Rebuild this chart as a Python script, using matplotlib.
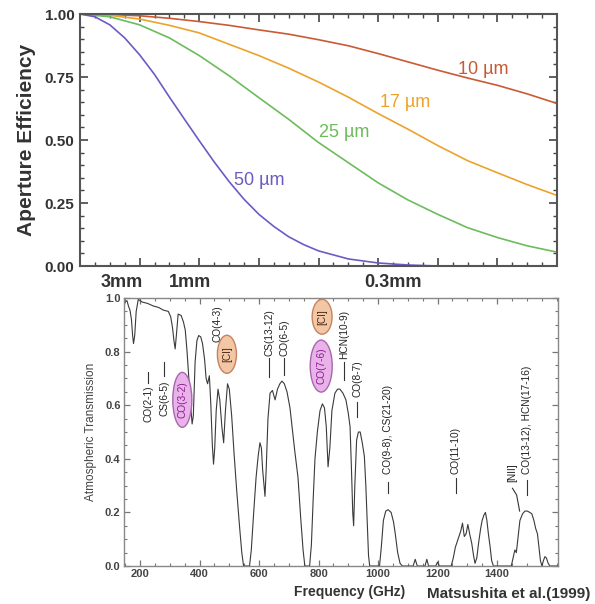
import matplotlib
matplotlib.use("Agg")
import matplotlib.pyplot as plt
from matplotlib.patches import Ellipse
from matplotlib.ticker import MultipleLocator, FormatStrFormatter, FixedLocator
import matplotlib.transforms as mtrans

plt.rcParams['font.family'] = ['Liberation Sans', 'DejaVu Sans']

# ---------------- data: aperture efficiency (top panel) ----------------
freq_eff = [0, 100, 200, 300, 400, 500, 600, 700, 800, 900, 1000, 1100, 1200, 1300, 1400, 1500, 1600]
eff_10um = [1.0, 0.998, 0.993, 0.983, 0.970, 0.955, 0.937, 0.920, 0.898, 0.874, 0.843, 0.810, 0.777, 0.746, 0.717, 0.683, 0.645]
eff_17um = [1.0, 0.995, 0.980, 0.955, 0.925, 0.880, 0.835, 0.785, 0.730, 0.670, 0.605, 0.543, 0.478, 0.418, 0.370, 0.323, 0.280]
eff_25um = [1.0, 0.989, 0.957, 0.905, 0.835, 0.755, 0.668, 0.582, 0.490, 0.410, 0.330, 0.262, 0.205, 0.152, 0.113, 0.080, 0.055]
freq_50 = [0, 50, 100, 150, 200, 250, 300, 350, 400, 450, 500, 550, 600, 650, 700, 750, 800, 900, 1000, 1100, 1200]
eff_50um = [1.0, 0.989, 0.957, 0.905, 0.838, 0.760, 0.670, 0.583, 0.497, 0.413, 0.335, 0.265, 0.205,
            0.157, 0.116, 0.085, 0.060, 0.028, 0.012, 0.004, 0.0]
curve_labels = ["10 \u00b5m", "17 \u00b5m", "25 \u00b5m", "50 \u00b5m"]
wave_ticks_f = [141, 369, 1050]
wave_ticks_lbl = ["3mm", "1mm", "0.3mm"]

# ---------------- data: atmospheric transmission (bottom panel) ----------------
atm_freq = [146, 150, 156, 161, 166, 171, 175, 178, 182, 187, 194, 207, 225, 245, 262, 278, 295, 303, 309, 314,
            318, 322, 328, 338, 346, 352, 358, 364, 370, 375, 379, 385, 391, 397, 404, 410, 417, 422, 427, 433,
            438, 443, 447, 451, 456, 462, 468, 475, 481, 487, 494, 500, 508, 516, 525, 535, 542, 548, 568, 574,
            582, 590, 597, 603, 608, 612, 617, 620, 624, 630, 637, 645, 654, 662, 670, 677, 685, 694, 704, 712,
            720, 731, 740, 748, 754, 770, 776, 782, 788, 796, 805, 813, 820, 826, 832, 838, 845, 855, 864, 872,
            882, 892, 900, 906, 911, 915, 918, 922, 928, 934, 940, 947, 954, 959, 964, 968, 972, 1005, 1011, 1018,
            1026, 1034, 1044, 1052, 1058, 1066, 1074, 1082, 1118, 1125, 1132, 1158, 1164, 1170, 1194, 1200, 1206, 1246, 1253, 1260,
            1266, 1272, 1278, 1284, 1290, 1296, 1302, 1308, 1315, 1321, 1326, 1332, 1338, 1345, 1350, 1356, 1361, 1366, 1371, 1377,
            1382, 1388, 1448, 1454, 1460, 1465, 1470, 1477, 1486, 1494, 1502, 1510, 1517, 1524, 1530, 1536, 1541, 1546, 1551, 1556,
            1561, 1566, 1572, 1578, 1605]
atm_trans = [0.97, 0.985, 0.99, 0.97, 0.955, 0.92, 0.86, 0.83, 0.86, 0.95, 0.995, 0.985, 0.98, 0.97, 0.965, 0.955, 0.95, 0.93, 0.89, 0.84,
             0.81, 0.86, 0.94, 0.935, 0.91, 0.88, 0.80, 0.70, 0.60, 0.53, 0.56, 0.76, 0.84, 0.86, 0.855, 0.83, 0.77, 0.70, 0.68, 0.71,
             0.60, 0.45, 0.38, 0.44, 0.58, 0.66, 0.62, 0.52, 0.46, 0.58, 0.68, 0.66, 0.56, 0.42, 0.28, 0.14, 0.05, 0.0, 0.0, 0.06,
             0.20, 0.33, 0.41, 0.46, 0.44, 0.36, 0.30, 0.26, 0.36, 0.55, 0.645, 0.655, 0.62, 0.66, 0.68, 0.69, 0.68, 0.65, 0.59, 0.51,
             0.43, 0.33, 0.18, 0.06, 0.0, 0.0, 0.08, 0.25, 0.40, 0.50, 0.58, 0.605, 0.59, 0.52, 0.37, 0.44, 0.58, 0.645, 0.66, 0.66,
             0.645, 0.62, 0.57, 0.52, 0.35, 0.20, 0.15, 0.30, 0.47, 0.50, 0.50, 0.46, 0.41, 0.30, 0.15, 0.04, 0.0, 0.0, 0.07, 0.17,
             0.205, 0.21, 0.20, 0.165, 0.12, 0.05, 0.01, 0.0, 0.0, 0.025, 0.0, 0.0, 0.025, 0.0, 0.0, 0.015, 0.0, 0.0, 0.03, 0.07,
             0.09, 0.11, 0.13, 0.16, 0.11, 0.12, 0.155, 0.12, 0.085, 0.04, 0.01, 0.03, 0.085, 0.14, 0.17, 0.19, 0.20, 0.17, 0.12, 0.07,
             0.02, 0.0, 0.0, 0.03, 0.06, 0.05, 0.10, 0.17, 0.195, 0.205, 0.205, 0.20, 0.195, 0.17, 0.14, 0.12, 0.07, 0.02, 0.0, 0.02,
             0.035, 0.03, 0.01, 0.0, 0.0]

# line labels (text, frequency)
line_labels = ["CO(2-1)", "CS(6-5)", "CO(4-3)", "CS(13-12)", "CO(6-5)", "HCN(10-9)", "CO(8-7)",
               "CO(9-8), CS(21-20)", "CO(11-10)", "CO(13-12), HCN(17-16)"]
line_freq = [227, 281, 459, 634, 684, 886, 930, 1034, 1262, 1501]
# ovals: text, frequency
oval_labels = ["CO(3-2)", "[CI]", "CO(7-6)", "[CI]"]
oval_freq = [342, 492, 809, 812]

# ---------------- figure ----------------
fig = plt.figure(figsize=(5.95, 6.04), dpi=100)
ax1 = fig.add_axes([0.1345, 0.5596, 0.8017, 0.4172])
ax2 = fig.add_axes([0.2084, 0.0629, 0.7294, 0.4437])

txt = '#333333'

# ---- top panel ----
c10, c17, c25, c50 = '#c95a34', '#eda22c', '#6cbc5c', '#6a5cc4'
ax1.plot(freq_eff, eff_10um, color=c10, lw=1.2)
ax1.plot(freq_eff, eff_17um, color=c17, lw=1.2)
ax1.plot(freq_eff, eff_25um, color=c25, lw=1.2)
ax1.plot(freq_50, eff_50um, color=c50, lw=1.2)
ax1.set_xlim(0, 1600)
ax1.set_ylim(0, 1.0)
ax1.xaxis.set_major_locator(MultipleLocator(200))
ax1.xaxis.set_minor_locator(MultipleLocator(50))
ax1.yaxis.set_major_locator(MultipleLocator(0.25))
ax1.yaxis.set_minor_locator(MultipleLocator(0.05))
ax1.yaxis.set_major_formatter(FormatStrFormatter('%.2f'))
ax1.set_xticklabels([])
ax1.tick_params(which='both', direction='in', top=True, right=True, colors='#444444')
ax1.tick_params(which='major', length=6, width=1.2)
ax1.tick_params(which='minor', length=3, width=1.0)
ax1.tick_params(axis='y', labelsize=11, labelcolor=txt, pad=4)
for lab in ax1.get_yticklabels():
    lab.set_fontweight('bold')
for s in ax1.spines.values():
    s.set_color('#555555')
    s.set_linewidth(1.5)
ax1.set_ylabel("Aperture Efficiency", fontsize=15, fontweight='bold', color=txt, labelpad=6)
trans1 = mtrans.blended_transform_factory(ax1.transData, ax1.transAxes)
for f, l in zip(wave_ticks_f, wave_ticks_lbl):
    ax1.text(f, -0.065, l, transform=trans1, ha='center', va='center', fontsize=13,
             fontweight='bold', color=txt)
for (f, e), l, c in zip([(1352, 0.778), (1091, 0.647), (886, 0.528), (601, 0.341)], curve_labels,
                        [c10, c17, c25, c50]):
    ax1.text(f, e, l, ha='center', va='center', fontsize=13, color=c)

# ---- bottom panel ----
ax2.plot(atm_freq, atm_trans, color='#3a3a3a', lw=0.8)
ax2.set_xlim(146, 1605)
ax2.set_ylim(0, 1.0)
ax2.xaxis.set_major_locator(FixedLocator([200, 400, 600, 800, 1000, 1200, 1400]))
ax2.xaxis.set_minor_locator(MultipleLocator(50))
ax2.yaxis.set_major_locator(MultipleLocator(0.2))
ax2.yaxis.set_minor_locator(MultipleLocator(0.05))
ax2.yaxis.set_major_formatter(FormatStrFormatter('%.1f'))
ax2.tick_params(which='both', direction='in', top=True, right=True, colors='#777777')
ax2.tick_params(which='major', length=4, width=0.9)
ax2.tick_params(which='minor', length=2, width=0.8)
ax2.tick_params(axis='both', labelsize=8, labelcolor='#444444', pad=2.5)
for lab in ax2.get_xticklabels() + ax2.get_yticklabels():
    lab.set_fontweight('bold')
for s in ax2.spines.values():
    s.set_color('#888888')
    s.set_linewidth(1.0)
ax2.set_ylabel("Atmospheric Transmission", fontsize=8.5, color='#444444', labelpad=6)
ax2.text(0.52, -0.096, "Frequency (GHz)", transform=ax2.transAxes, ha='center', va='center',
         fontsize=10, fontweight='bold', color=txt)
fig.text(0.992, 0.017, "Matsushita et al.(1999)", ha='right', va='center', fontsize=11,
         fontweight='bold', color=txt)

# line labels with short marker dashes
text_T = [0.605, 0.625, 0.905, 0.87, 0.85, 0.865, 0.70, 0.51, 0.43, 0.546]
dash_T = [(0.683, 0.724), (0.71, 0.76), None, (0.705, 0.776), (0.713, 0.776), (0.694, 0.76),
          (0.556, 0.612), (0.272, 0.313), (0.272, 0.328), (0.265, 0.32)]
for l, f, t, d in zip(line_labels, line_freq, text_T, dash_T):
    ax2.text(f, t, l, rotation=90, ha='center', va='center', fontsize=7.3, color='#222222')
    if d is not None:
        ax2.plot([f, f], list(d), color='#333333', lw=0.8)

# [NII] with leader line
ax2.text(1450, 0.35, "[NII]", rotation=90, ha='center', va='center', fontsize=7.3, color='#222222')
ax2.plot([1452, 1466, 1476], [0.29, 0.265, 0.205], color='#333333', lw=0.8)

# ovals
oval_T = [0.62, 0.79, 0.746, 0.93]
oval_w = [64, 64, 74, 67]
oval_h = [0.205, 0.142, 0.194, 0.13]
pink_fc, pink_ec, pink_tc = '#e9b3ea', '#a866ad', '#8c1a92'
org_fc, org_ec, org_tc = '#f3c6a4', '#c48462', '#4a2a1c'
for l, f, t, w, h in zip(oval_labels, oval_freq, oval_T, oval_w, oval_h):
    if l.startswith('[CI]'):
        fc, ec, tc = org_fc, org_ec, org_tc
    else:
        fc, ec, tc = pink_fc, pink_ec, pink_tc
    ax2.add_patch(Ellipse((f, t), w, h, facecolor=fc, edgecolor=ec, lw=1.0, zorder=3))
    ax2.text(f, t, l, rotation=90, ha='center', va='center', fontsize=7.3, color=tc, zorder=4)

fig.savefig("out.png", dpi=100)
